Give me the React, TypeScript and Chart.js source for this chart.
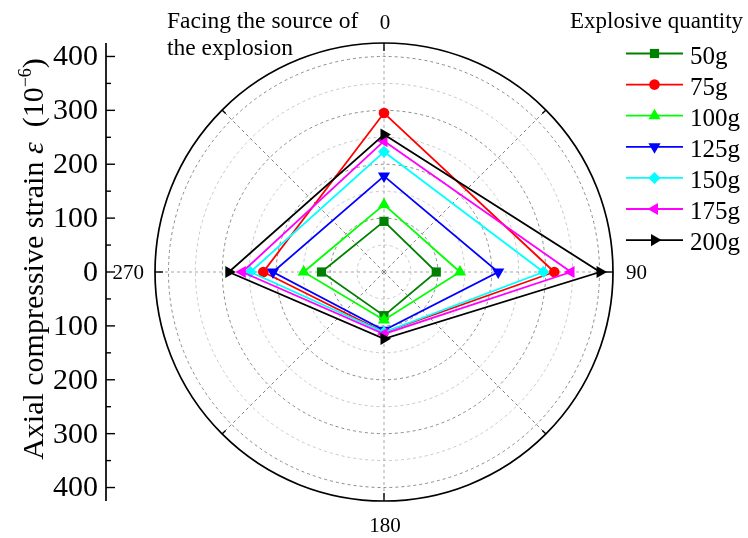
import React, { useEffect, useRef } from 'react';
import { Chart, registerables } from 'chart.js';

Chart.register(...registerables);

// ---------- data ----------
const angleLabels = ['0', '90', '180', '270'];
const seriesNames = ['50g', '75g', '100g', '125g', '150g', '175g', '200g'];
const strain50 = [94, 97, 81, 116];
const strain75 = [295, 316, 112, 224];
const strain100 = [125, 141, 89, 149];
const strain125 = [178, 212, 108, 206];
const strain150 = [223, 296, 112, 248];
const strain175 = [243, 347, 115, 263];
const strain200 = [255, 401, 124, 288];
const seriesValues = [strain50, strain75, strain100, strain125, strain150, strain175, strain200];
const gridValues = [50, 100, 150, 200, 250, 300, 350, 400];
const axisTickLabels = [0, 100, 200, 300, 400];
const axisMinorTicks = [50, 150, 250, 350];
const radialMax = 425;
const legendTitle = 'Explosive quantity';
const cornerTitle = ['Facing the source of', 'the explosion'];

// ---------- styles ----------
const colors = ['#008000', '#ff0000', '#00ff00', '#0000ff', '#00ffff', '#ff00ff', '#000000'];
const pointStyles = ['rect', 'circle', 'triangle', 'triangle', 'rectRot', 'triangle', 'triangle'];
const pointRotations = [0, 0, 0, 180, 0, 270, 90];
const pointRadii = [6.5, 5.3, 7, 7, 6, 7, 7];

const SERIF = '"Liberation Serif", "Times New Roman", serif';

function drawMarker(ctx: CanvasRenderingContext2D, style: string, rotation: number, r: number, x: number, y: number, color: string) {
  ctx.save();
  ctx.fillStyle = color;
  ctx.beginPath();
  if (style === 'circle') {
    ctx.arc(x, y, r, 0, Math.PI * 2);
  } else if (style === 'rect') {
    const s = Math.SQRT1_2 * r;
    ctx.rect(x - s, y - s, 2 * s, 2 * s);
  } else if (style === 'rectRot') {
    ctx.moveTo(x, y - r);
    ctx.lineTo(x + r, y);
    ctx.lineTo(x, y + r);
    ctx.lineTo(x - r, y);
    ctx.closePath();
  } else {
    let rad = (rotation * Math.PI) / 180;
    ctx.moveTo(x + Math.sin(rad) * r, y - Math.cos(rad) * r);
    rad += (2 * Math.PI) / 3;
    ctx.lineTo(x + Math.sin(rad) * r, y - Math.cos(rad) * r);
    rad += (2 * Math.PI) / 3;
    ctx.lineTo(x + Math.sin(rad) * r, y - Math.cos(rad) * r);
    ctx.closePath();
  }
  ctx.fill();
  ctx.restore();
}

const decorPlugin = {
  id: 'polarDecor',
  beforeDatasetsDraw(chart: any) {
    const sc = chart.scales.r;
    const ctx: CanvasRenderingContext2D = chart.ctx;
    const cx = sc.xCenter;
    const cy = sc.yCenter;
    const R = sc.getDistanceFromCenterForValue(radialMax);
    ctx.save();
    ctx.lineWidth = 1;
    ctx.setLineDash([3, 3]);
    for (const v of gridValues) {
      const d = sc.getDistanceFromCenterForValue(v);
      ctx.strokeStyle = v % 100 === 0 ? '#8a8a8a' : '#c8c8c8';
      ctx.beginPath();
      ctx.arc(cx, cy, d, 0, Math.PI * 2);
      ctx.stroke();
    }
    for (let k = 0; k < 8; k++) {
      const a = (k * Math.PI) / 4 - Math.PI / 2;
      ctx.strokeStyle = k % 2 === 0 ? '#a8a8a8' : '#808080';
      ctx.beginPath();
      ctx.moveTo(cx, cy);
      ctx.lineTo(cx + R * Math.cos(a), cy + R * Math.sin(a));
      ctx.stroke();
    }
    ctx.setLineDash([]);
    // outer circle
    ctx.strokeStyle = '#000';
    ctx.lineWidth = 1.7;
    ctx.beginPath();
    ctx.arc(cx, cy, R, 0, Math.PI * 2);
    ctx.stroke();
    // ticks on outer circle
    ctx.lineWidth = 1.4;
    for (let k = 0; k < 8; k++) {
      const a = (k * Math.PI) / 4 - Math.PI / 2;
      const len = k % 2 === 0 ? 8 : 5;
      ctx.beginPath();
      ctx.moveTo(cx + R * Math.cos(a), cy + R * Math.sin(a));
      ctx.lineTo(cx + (R - len) * Math.cos(a), cy + (R - len) * Math.sin(a));
      ctx.stroke();
    }
    ctx.restore();
  },
  afterDraw(chart: any) {
    const sc = chart.scales.r;
    const ctx: CanvasRenderingContext2D = chart.ctx;
    const cx = sc.xCenter;
    const cy = sc.yCenter;
    const R = sc.getDistanceFromCenterForValue(radialMax);
    ctx.save();
    ctx.fillStyle = '#000';
    // angle labels
    ctx.font = `21px ${SERIF}`;
    ctx.textAlign = 'center';
    ctx.textBaseline = 'alphabetic';
    ctx.fillText(angleLabels[0], cx + 1, cy - R - 14);
    ctx.textAlign = 'left';
    ctx.textBaseline = 'middle';
    ctx.fillText(angleLabels[1], cx + R + 13, cy + 1);
    ctx.textAlign = 'center';
    ctx.textBaseline = 'top';
    ctx.fillText(angleLabels[2], cx + 1, cy + R + 15);
    ctx.textAlign = 'right';
    ctx.textBaseline = 'middle';
    ctx.fillText(angleLabels[3], cx - R - 11, cy + 1);

    // left axis
    const ax = 106;
    ctx.strokeStyle = '#000';
    ctx.lineWidth = 1.7;
    ctx.beginPath();
    ctx.moveTo(ax, cy - R);
    ctx.lineTo(ax, cy + R);
    ctx.stroke();
    ctx.lineWidth = 1.4;
    ctx.font = `30px ${SERIF}`;
    ctx.textAlign = 'right';
    ctx.textBaseline = 'middle';
    for (const v of axisTickLabels) {
      const d = sc.getDistanceFromCenterForValue(v);
      for (const sgn of v === 0 ? [0] : [-1, 1]) {
        const y = cy + sgn * d;
        ctx.beginPath();
        ctx.moveTo(ax, y);
        ctx.lineTo(ax + 9, y);
        ctx.stroke();
        ctx.fillText(String(v), 98, y + 1);
      }
    }
    for (const v of axisMinorTicks) {
      const d = sc.getDistanceFromCenterForValue(v);
      for (const sgn of [-1, 1]) {
        const y = cy + sgn * d;
        ctx.beginPath();
        ctx.moveTo(ax, y);
        ctx.lineTo(ax + 5, y);
        ctx.stroke();
      }
    }

    // y title (rotated)
    const segs = [
      { t: 'Axial compressive strain ', f: `30px ${SERIF}`, dy: 0 },
      { t: 'ε', f: `italic 30px ${SERIF}`, dy: 0 },
      { t: '  (10', f: `30px ${SERIF}`, dy: 0 },
      { t: '−6', f: `18px ${SERIF}`, dy: -12 },
      { t: ')', f: `30px ${SERIF}`, dy: 0 },
    ];
    let total = 0;
    for (const s of segs) {
      ctx.font = s.f;
      total += ctx.measureText(s.t).width;
    }
    ctx.save();
    ctx.translate(43, 259);
    ctx.rotate(-Math.PI / 2);
    ctx.textAlign = 'left';
    ctx.textBaseline = 'alphabetic';
    let x = -total / 2;
    for (const s of segs) {
      ctx.font = s.f;
      ctx.fillText(s.t, x, s.dy);
      x += ctx.measureText(s.t).width;
    }
    ctx.restore();

    // corner title
    ctx.font = `23.5px ${SERIF}`;
    ctx.textAlign = 'left';
    ctx.textBaseline = 'alphabetic';
    ctx.fillText(cornerTitle[0], 167, 28);
    ctx.fillText(cornerTitle[1], 167, 55);

    // legend
    ctx.font = `23px ${SERIF}`;
    ctx.fillText(legendTitle, 570, 28);
    ctx.font = `25px ${SERIF}`;
    seriesNames.forEach((name, i) => {
      const y = 53.5 + i * 31.1;
      ctx.strokeStyle = colors[i];
      ctx.lineWidth = 1.8;
      ctx.beginPath();
      ctx.moveTo(626, y);
      ctx.lineTo(683, y);
      ctx.stroke();
      drawMarker(ctx, pointStyles[i], pointRotations[i], pointRadii[i], 654.5, y, colors[i]);
      ctx.fillStyle = '#000';
      ctx.fillText(name, 690, y + 10);
    });
    ctx.restore();
  },
};

export default function App() {
  const canvasRef = useRef<HTMLCanvasElement | null>(null);
  useEffect(() => {
    if (!canvasRef.current) return;
    const chart = new Chart(canvasRef.current, {
      type: 'radar',
      data: {
        labels: angleLabels,
        datasets: seriesNames.map((name, i) => ({
          label: name,
          data: seriesValues[i],
          borderColor: colors[i],
          backgroundColor: colors[i],
          pointBackgroundColor: colors[i],
          pointBorderColor: colors[i],
          pointBorderWidth: 0,
          pointStyle: pointStyles[i] as any,
          pointRotation: pointRotations[i],
          pointRadius: pointRadii[i],
          borderWidth: 1.8,
          fill: false,
          order: seriesNames.length - i,
        })),
      },
      options: {
        responsive: false,
        animation: false,
        devicePixelRatio: 1,
        layout: { padding: { left: 155, right: 135, top: 43, bottom: 37 } },
        plugins: { legend: { display: false }, tooltip: { enabled: false } },
        scales: {
          r: {
            min: 0,
            max: radialMax,
            ticks: { display: false, stepSize: 50 },
            grid: { display: false },
            angleLines: { display: false },
            pointLabels: { display: false },
          },
        },
      },
      plugins: [decorPlugin],
    });
    return () => chart.destroy();
  }, []);
  return (
    <div style={{ position: 'absolute', left: 0, top: 0, width: 748, height: 538 }}>
      <canvas ref={canvasRef} width={748} height={538} style={{ display: 'block', width: 748, height: 538 }} />
    </div>
  );
}
